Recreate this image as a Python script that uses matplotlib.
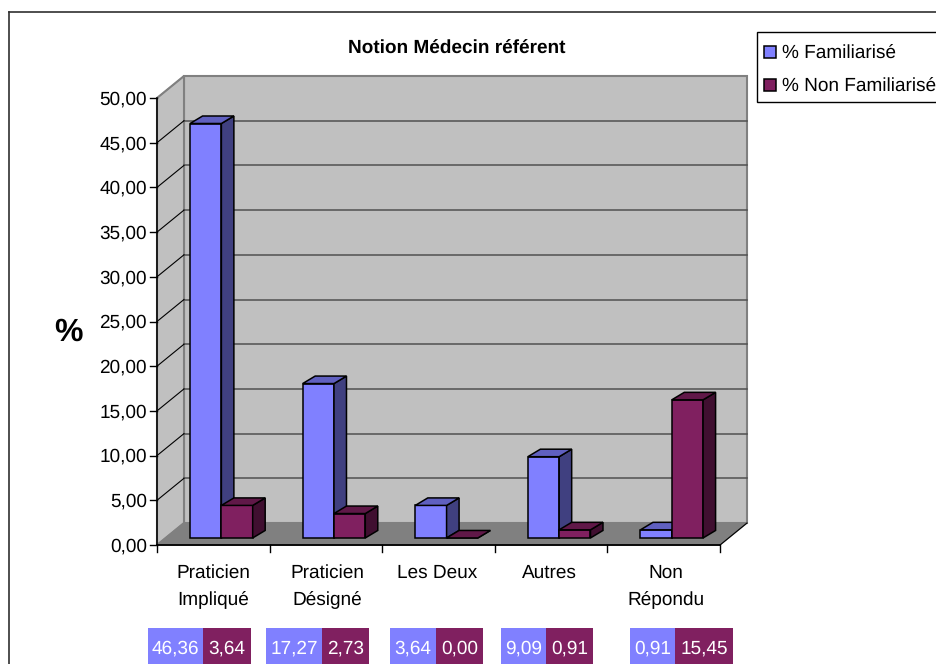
import matplotlib
matplotlib.use("Agg")
import matplotlib.pyplot as plt
from matplotlib.patches import Polygon, Rectangle
from matplotlib.lines import Line2D

plt.rcParams["font.family"] = ["Liberation Sans", "DejaVu Sans"]
plt.rcParams["text.hinting"] = "no_hinting"
plt.rcParams["text.hinting_factor"] = 1

categories = ["Praticien\nImpliqué", "Praticien\nDésigné", "Les Deux", "Autres", "Non\nRépondu"]
familiarise = [46.36, 17.27, 3.64, 9.09, 0.91]
non_familiarise = [3.64, 2.73, 0.00, 0.91, 15.45]
y_ticks = [0, 5, 10, 15, 20, 25, 30, 35, 40, 45, 50]

W, H = 936, 664
BLUE = ("#8080FF", "#404080", "#6060C0")
PLUM = ("#802060", "#400F30", "#601848")
FS = 14

# pseudo 3D: depth 1 is the back wall, in axis units
UX = 112.6
UY = 8.94
DX = 27 / UX
DY = 22 / UY
BAR_W = 0.278
BAR_X0 = 0.217
D0 = 0.32
BAR_DX = 12.5 / UX
BAR_DY = 7.5 / UY


def proj(x, y, d):
    return (x + d * DX, y + d * DY)


def px(x, y):
    # pixel position measured from the top left corner
    return (x / W, 1 - y / H)


fig = plt.figure(figsize=(W / 100, H / 100), dpi=100, facecolor="white")
ax = fig.add_axes([157 / W, (H - 545) / H, 563 / W, 447 / H])
ax.set_xlim(0, 5)
ax.set_ylim(0, 50)
ax.axis("off")


def face(points, color, z=3, edge="black", lw=1.1):
    ax.add_patch(Polygon(points, closed=True, facecolor=color, edgecolor=edge,
                         linewidth=lw, joinstyle="miter", clip_on=False, zorder=z))


# walls and floor
face([proj(0, 0, 1), proj(5, 0, 1), proj(5, 50, 1), proj(0, 50, 1)], "#C0C0C0", 1, "#808080", 1.5)
face([proj(0, 0, 0), proj(0, 0, 1), proj(0, 50, 1), proj(0, 50, 0)], "#C0C0C0", 1, "#808080", 1.5)
face([proj(0, 0, 0), proj(5, 0, 0), proj(5, 0, 1), proj(0, 0, 1)], "#808080", 1.5, "#808080", 1)

for t in y_ticks[1:-1]:
    ax.plot(*zip(proj(0, t, 1), proj(5, t, 1)), color="#505050", lw=1.1, zorder=2, clip_on=False)
for t in y_ticks[1:]:
    ax.plot(*zip(proj(0, t, 0), proj(0, t, 1)), color="black" if t < 50 else "#808080",
            lw=0.8, zorder=2, clip_on=False)
ax.plot(*zip(proj(5, 0, 0), proj(5, 0, 1)), color="black", lw=0.8, zorder=2, clip_on=False)

# axes lines and ticks
ax.plot([0, 0], [0, 50], color="black", lw=1.1, zorder=2.5, clip_on=False)
ax.plot([0, 5], [0, 0], color="black", lw=1.3, zorder=2.5, clip_on=False)
for t in y_ticks:
    ax.plot([-7 / UX, 0], [t, t], color="black", lw=1.0, clip_on=False)
    ax.text(-10 / UX, t - 1.5 / UY, f"{t:.2f}".replace(".", ","), ha="right", va="center", fontsize=FS)
for i in range(6):
    ax.plot([i, i], [0, -7 / UY], color="black", lw=1.0, clip_on=False)


def bar3d(x, v, cols, z):
    front, side, top = cols
    x0, y0 = proj(x, 0, D0)
    x1, y1 = proj(x + BAR_W, v, D0)
    face([(x0, y0), (x1, y0), (x1, y1), (x0, y1)], front, z)
    face([(x1, y0), (x1 + BAR_DX, y0 + BAR_DY), (x1 + BAR_DX, y1 + BAR_DY), (x1, y1)], side, z)
    face([(x0, y1), (x1, y1), (x1 + BAR_DX, y1 + BAR_DY), (x0 + BAR_DX, y1 + BAR_DY)], top, z)


for i in range(len(categories)):
    bar3d(i + BAR_X0, familiarise[i], BLUE, 3 + i * 0.1)
    bar3d(i + BAR_X0 + BAR_W, non_familiarise[i], PLUM, 3.05 + i * 0.1)

# category labels, two lines at most
label_x = [213.5, 327, 437, 549.5, 665.5]
for cx, lab in zip(label_x, categories):
    for j, s in enumerate(lab.split("\n")):
        xf, yf = px(cx, 573 + j * 27)
        fig.text(xf, yf, s, ha="center", va="center", fontsize=FS)

# values under the chart
cell_x = [(148, 203, 251), (266, 322, 369), (390, 436, 483), (501, 546, 593), (630, 675, 733)]
CELL_TOP, CELL_BOTTOM = 628, 664
for (a, b, c), v1, v2 in zip(cell_x, familiarise, non_familiarise):
    for left, right, col, val in ((a, b, BLUE[0], v1), (b, c, PLUM[0], v2)):
        fig.add_artist(Rectangle(px(left, CELL_BOTTOM), (right - left) / W,
                                 (CELL_BOTTOM - CELL_TOP) / H, transform=fig.transFigure,
                                 facecolor=col, edgecolor="none"))
        xf, yf = px((left + right) / 2, 648.5)
        fig.text(xf, yf, f"{val:.2f}".replace(".", ","), color="white",
                 ha="center", va="center", fontsize=FS)

# outer frame runs off the right and bottom sides
fig.add_artist(Line2D([9 / W, 9 / W], [0, 1 - 12 / H], color="#303030", lw=1.2))
fig.add_artist(Line2D([9 / W, 1], [1 - 12 / H, 1 - 12 / H], color="#303030", lw=1.2))

xf, yf = px(457, 49)
fig.text(xf, yf, "Notion Médecin référent", ha="center", va="center", fontsize=FS, fontweight="bold")
xf, yf = px(68.5, 332)
fig.text(xf, yf, "%", ha="center", va="center", fontsize=23, fontweight="bold")

# legend box, cut by the figure edge
fig.add_artist(Rectangle(px(757, 102), 200 / W, 70 / H, transform=fig.transFigure,
                         facecolor="white", edgecolor="black", linewidth=1.0))
legend_labels = ["% Familiarisé", "% Non Familiarisé"]
for lab, col, y in zip(legend_labels, (BLUE[0], PLUM[0]), (52, 85)):
    fig.add_artist(Rectangle(px(764, y + 6), 12 / W, 12 / H, transform=fig.transFigure,
                             facecolor=col, edgecolor="black", linewidth=1.1))
    xf, yf = px(782, y + 1.5)
    fig.text(xf, yf, lab, ha="left", va="center", fontsize=FS)

fig.savefig("out.png", dpi=100)
